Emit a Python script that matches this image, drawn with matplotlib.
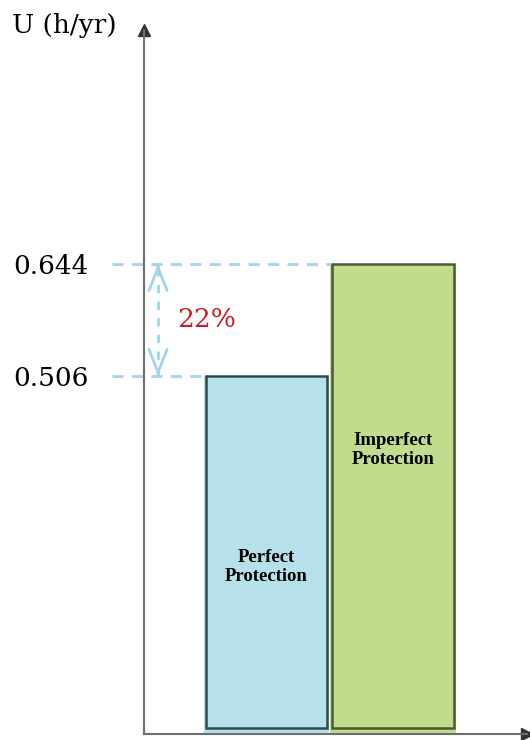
"""Unavailability comparison: perfect vs imperfect protection."""
import matplotlib
matplotlib.use("Agg")
import matplotlib.pyplot as plt

categories = ["Perfect\nProtection", "Imperfect\nProtection"]
values = [0.506, 0.644]
tick_labels = ["0.506", "0.644"]
diff_label = "22%"
y_label = "U (h/yr)"

fill_colors = ["#b6e1ea", "#c1dc8c"]
edge_colors = ["#2c4c4e", "#4b5a39"]
dash_color = "#9fd6e8"

Y_MIN, Y_MAX = 0.0645, 0.9325
X_MIN, X_MAX = -0.968, 2.06
Y_FLOOR = 0.072
ARROW_X = -0.857

fig = plt.figure(figsize=(5.3, 7.4), dpi=100)
ax = fig.add_axes([144 / 530, 6 / 740, (527 - 144) / 530, (734 - 30) / 740])
ax.set_xlim(X_MIN, X_MAX)
ax.set_ylim(Y_MIN, Y_MAX)

# 柱子
xs = list(range(len(values)))
for x, v, fc, ec in zip(xs, values, fill_colors, edge_colors):
    ax.bar(x, v - Y_MIN, bottom=Y_MIN, width=0.99, color=fc,
           edgecolor="none", zorder=2)
    ax.bar(x, v - Y_FLOOR, bottom=Y_FLOOR, width=0.96, color="none",
           edgecolor=ec, linewidth=1.8, zorder=3)

label_y = [0.270, 0.415]
for x, lab, ly in zip(xs, categories, label_y):
    ax.text(x, ly, lab, ha="center", va="center", fontsize=13.5,
            fontweight="bold", family="Liberation Serif", linespacing=1.15, zorder=4)

# 虚线参考线
ax.plot([X_MIN - 0.25, xs[0] - 0.495], [values[0]] * 2, ls=(0, (4, 3)),
        color=dash_color, lw=2, clip_on=False, zorder=1)
ax.plot([X_MIN - 0.25, xs[1] - 0.495], [values[1]] * 2, ls=(0, (4, 3)),
        color=dash_color, lw=2, clip_on=False, zorder=1)

# 双向箭头：虚线竖线 + 实线箭头
ax.plot([ARROW_X, ARROW_X], values, ls=(0, (3, 3)), color=dash_color, lw=2)
eps = 0.004
for tip, tail in ((values[1], values[1] - eps), (values[0], values[0] + eps)):
    ax.annotate("", xy=(ARROW_X, tip), xytext=(ARROW_X, tail),
                arrowprops=dict(arrowstyle="->,head_length=0.75,head_width=0.3",
                                color=dash_color, lw=2, mutation_scale=22,
                                shrinkA=0, shrinkB=0))
ax.text(-0.47, (values[0] + values[1]) / 2, diff_label, color="#c4202c",
        fontsize=19, family="DejaVu Serif", ha="center", va="center")

# 坐标轴
for side in ("top", "right"):
    ax.spines[side].set_visible(False)
for side in ("left", "bottom"):
    ax.spines[side].set_color("#6e6e6e")
    ax.spines[side].set_linewidth(1.5)
ax.plot(1, 0, ">", color="#333333", ms=8, transform=ax.transAxes, clip_on=False)
ax.plot(0, 1, "^", color="#333333", ms=8, transform=ax.transAxes, clip_on=False)

ax.set_xticks([])
ax.set_yticks(values)
ax.set_yticklabels(tick_labels, fontsize=19, family="DejaVu Serif",
                   va="top")
ax.tick_params(axis="y", length=0, pad=40)
for lbl in ax.get_yticklabels():
    lbl.set_va("center_baseline")

fig.text(12 / 530, 1 - 25 / 740, y_label, fontsize=19, family="DejaVu Serif",
         ha="left", va="center")

fig.savefig("out.png", dpi=100)
